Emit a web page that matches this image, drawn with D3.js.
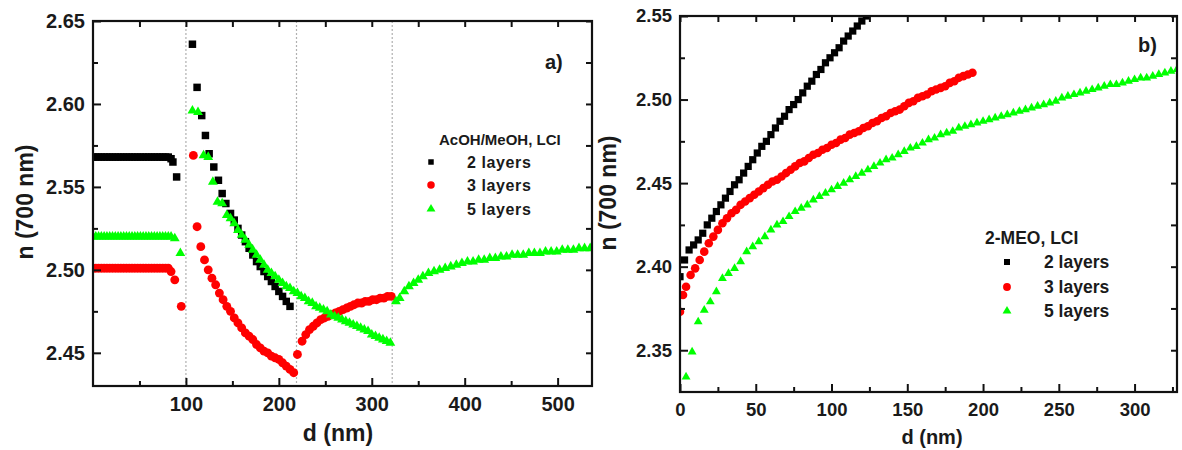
<!DOCTYPE html>
<html>
<head>
<meta charset="utf-8">
<script src="https://cdn.jsdelivr.net/npm/d3@7"></script>
<style>
  html, body { margin: 0; padding: 0; background: #fff; }
  svg { display: block; }
  text { font-family: "Liberation Sans", Arial, sans-serif; font-weight: bold; fill: #1a1a1a; }
</style>
</head>
<body>
<svg id="chart" width="1182" height="450"></svg>
<script>
// ---------------- DATA ----------------
const seriesNames = ["2 layers", "3 layers", "5 layers"];
const seriesColors = ["#000000", "#ff0000", "#00ff00"];

// Panel a) AcOH/MeOH, LCI
const aTicksX = [100, 200, 300, 400, 500];
const aMinorX = [50, 150, 250, 350, 450];
const aTicksY = [2.45, 2.50, 2.55, 2.60, 2.65];
const aMinorY = [2.475, 2.525, 2.575, 2.625];
const aBoundaries = [100, 219, 322];

const a2_d = [0,3,6,9,12,15,18,21,24,27,30,33,36,39,42,45,48,51,54,57,60,63,66,69,72,75,78,81,84,86,90,
  107,112,117,121,125,130,135,139,143,148,152,156,160,164,168,172,176,180,184,188,192,196,200,204,208,212];
const a2_n = [2.568,2.568,2.568,2.568,2.568,2.568,2.568,2.568,2.568,2.568,2.568,2.568,2.568,2.568,2.568,2.568,2.568,2.568,2.568,2.568,2.568,2.568,2.568,2.568,2.568,2.568,2.568,2.568,2.567,2.565,2.556,
  2.636,2.610,2.593,2.581,2.570,2.562,2.554,2.546,2.540,2.534,2.530,2.525,2.521,2.517,2.513,2.509,2.505,2.502,2.499,2.496,2.493,2.490,2.487,2.484,2.481,2.478];

const a3_d = [0,3,6,9,12,15,18,21,24,27,30,33,36,39,42,45,48,51,54,57,60,63,66,69,72,75,78,81,84,88,95,
  108,112,116,120,124,128,132,136,140,144,148,152,156,160,164,168,172,176,180,184,188,192,196,200,204,208,212,216,
  220,225,229,233,237,241,245,249,253,257,261,265,269,273,277,281,285,289,293,297,301,305,309,313,317,321];
const a3_n = [2.501,2.501,2.501,2.501,2.501,2.501,2.501,2.501,2.501,2.501,2.501,2.501,2.501,2.501,2.501,2.501,2.501,2.501,2.501,2.501,2.501,2.501,2.501,2.501,2.501,2.501,2.501,2.501,2.499,2.494,2.478,
  2.569,2.526,2.514,2.506,2.500,2.495,2.491,2.486,2.482,2.478,2.475,2.471,2.468,2.465,2.462,2.460,2.458,2.455,2.453,2.451,2.450,2.448,2.447,2.446,2.444,2.442,2.440,2.438,
  2.449,2.457,2.461,2.464,2.466,2.468,2.470,2.471,2.472,2.473,2.474,2.475,2.476,2.477,2.478,2.479,2.480,2.480,2.481,2.481,2.482,2.482,2.483,2.483,2.484,2.484];

const a5_d = [0,3,6,9,12,15,18,21,24,27,30,33,36,39,42,45,48,51,54,57,60,63,66,69,72,75,78,81,84,88,94,
  107,113,119,124,129,134,139,144,148,152,156,160,164,168,172,176,180,184,188,192,196,200,204,208,212,216,220,224,228,232,236,240,244,248,252,256,260,264,268,272,276,280,284,288,292,296,300,304,308,312,316,320,
  326,330,335,340,345,350,355,361,367,373,379,385,391,397,403,409,415,421,427,433,439,445,451,457,463,469,475,481,487,493,499,505,511,517,523,529,535];
const a5_n = [2.520,2.520,2.520,2.520,2.520,2.520,2.520,2.520,2.520,2.520,2.520,2.520,2.520,2.520,2.520,2.520,2.520,2.520,2.520,2.520,2.520,2.520,2.520,2.520,2.520,2.520,2.520,2.520,2.520,2.519,2.510,
  2.596,2.595,2.569,2.568,2.553,2.541,2.540,2.533,2.531,
  2.528,2.524,2.521,2.518,2.515,2.512,2.509,2.506,2.503,2.500,2.498,2.496,2.494,2.492,2.490,2.489,2.487,2.486,2.484,2.483,
  2.481,2.480,2.478,2.477,2.476,2.475,2.473,2.472,2.471,2.470,2.469,2.468,2.467,2.466,2.465,2.464,2.463,2.461,2.460,2.459,
  2.458,2.457,2.456,
  2.481,2.483,2.487,2.490,2.492,2.494,2.496,2.498,2.499,2.500,2.501,2.502,2.503,2.504,2.505,2.505,2.506,2.506,2.507,2.507,
  2.508,2.508,2.509,2.509,2.509,2.510,2.510,2.510,2.511,2.511,2.511,2.512,2.512,2.512,2.513,2.513,2.513];

// Panel b) 2-MEO, LCI
const bTicksX = [0, 50, 100, 150, 200, 250, 300];
const bMinorX = [25, 75, 125, 175, 225, 275, 325];
const bTicksY = [2.35, 2.40, 2.45, 2.50, 2.55];
const bMinorY = [2.375, 2.425, 2.475, 2.525];

const b2_d = [0,3,6,9,12,15,18,21,24,27,30,33,36,39,42,45,48,51,54,57,60,63,66,69,72,75,78,81,84,87,90,93,96,99,102,105,108,111,114,117,120,123,126,129];
const b2_n = [2.394,2.404,2.410,2.413,2.416,2.420,2.425,2.429,2.433,2.437,2.441,2.445,2.449,2.452,2.456,2.460,2.464,2.468,2.472,2.475,
  2.479,2.483,2.487,2.490,2.494,2.497,2.500,2.504,2.508,2.511,2.515,2.518,2.522,2.525,2.528,2.531,2.535,2.538,2.541,2.544,2.547,2.550,2.553,2.556];

const b3_d = [0,2,4,7,10,13,16,19,22,25,28,31,34,37,40,43,46,49,52,55,58,61,64,67,70,73,76,79,82,85,88,91,94,97,100,103,106,109,112,115,118,121,124,127,130,133,136,139,142,145,148,151,154,157,160,163,166,169,172,175,178,181,184,187,190,193];
const b3_n = [2.373,2.383,2.388,2.395,2.399,2.404,2.409,2.414,2.418,2.422,2.426,2.429,2.432,2.434,2.437,2.439,2.441,2.443,2.445,2.447,2.449,2.451,2.452,2.454,2.456,2.458,2.460,2.462,2.463,2.465,2.467,2.468,2.470,2.471,2.473,2.474,2.476,2.477,2.479,2.480,2.481,2.483,2.484,2.486,2.487,2.489,2.490,2.492,2.493,2.494,2.496,2.498,2.499,2.501,2.502,2.503,2.505,2.506,2.507,2.508,2.510,2.511,2.513,2.514,2.515,2.516];

const b5_d = [4,8,12,16,20,24,28,32,36,40,44,48,52,56,60,64,68,72,76,80,84,88,92,96,100,104,108,112,116,120,124,128,132,136,140,144,148,152,156,160,164,168,172,176,180,184,188,192,196,200,204,208,212,216,220,224,228,232,236,240,244,248,252,256,260,264,268,272,276,280,284,288,292,296,300,304,308,312,316,320,324,328];
const b5_n = [2.334,2.349,2.367,2.374,2.379,2.385,2.393,2.396,2.399,2.403,2.409,2.412,2.415,2.418,2.422,2.425,2.427,2.430,2.433,2.435,
  2.437,2.440,2.442,2.444,2.446,2.448,2.450,2.452,2.454,2.456,2.458,2.460,2.462,2.464,2.465,2.467,2.469,2.471,2.472,2.474,
  2.476,2.477,2.479,2.480,2.481,2.483,2.484,2.485,2.486,2.487,2.488,2.489,2.490,2.491,2.492,2.493,2.494,2.495,2.496,2.497,
  2.498,2.499,2.501,2.502,2.503,2.504,2.505,2.506,2.507,2.508,2.509,2.509,2.510,2.511,2.512,2.513,2.513,2.514,2.515,2.516,
  2.517,2.518];

// ---------------- DRAWING ----------------
const svg = d3.select("#chart");

function zip(ds, ns) { return ds.map((d, i) => ({ d: d, n: ns[i] })); }

function drawPanel(cfg) {
  const g = svg.append("g");
  const x = d3.scaleLinear().domain(cfg.xDomain).range([cfg.left, cfg.right]);
  const y = d3.scaleLinear().domain(cfg.yDomain).range([cfg.bottom, cfg.top]);

  const clipId = "clip-" + cfg.id;
  svg.append("clipPath").attr("id", clipId)
    .append("rect").attr("x", cfg.left).attr("y", cfg.top)
    .attr("width", cfg.right - cfg.left).attr("height", cfg.bottom - cfg.top);

  (cfg.boundaries || []).forEach(b => {
    g.append("line")
      .attr("x1", x(b)).attr("x2", x(b))
      .attr("y1", cfg.top).attr("y2", cfg.bottom)
      .attr("stroke", "#b0b0b0").attr("stroke-width", 1.2)
      .attr("stroke-dasharray", "2,2");
  });

  const symbols = [d3.symbolSquare, d3.symbolCircle, d3.symbolTriangle];
  const plot = g.append("g").attr("clip-path", "url(#" + clipId + ")");
  cfg.series.forEach((s, i) => {
    const gen = d3.symbol().type(symbols[i]).size(cfg.symSizes[i]);
    plot.append("g").selectAll("path").data(zip(s[0], s[1])).join("path")
      .attr("d", gen)
      .attr("transform", p => `translate(${x(p.d)},${y(p.n)})`)
      .attr("fill", seriesColors[i]);
  });

  const fs = cfg.tickFont;
  const styleAxis = (sel) => {
    sel.select(".domain").remove();
    sel.selectAll(".tick line").attr("stroke", "#111").attr("stroke-width", 2);
    sel.selectAll(".tick text").style("font-size", fs + "px").attr("fill", "#1a1a1a");
  };
  g.append("g").attr("transform", `translate(0,${cfg.bottom})`)
    .call(d3.axisBottom(x).tickValues(cfg.ticksX).tickSize(-8).tickPadding(cfg.xPad).tickFormat(d3.format("d"))).call(styleAxis);
  g.append("g").attr("transform", `translate(0,${cfg.bottom})`)
    .call(d3.axisBottom(x).tickValues(cfg.minorX).tickSize(-5).tickFormat("")).call(styleAxis);
  g.append("g").attr("transform", `translate(0,${cfg.top})`)
    .call(d3.axisTop(x).tickValues(cfg.ticksX.concat(cfg.minorX)).tickSize(-6).tickFormat("")).call(styleAxis);
  g.append("g").attr("transform", `translate(${cfg.left},0)`)
    .call(d3.axisLeft(y).tickValues(cfg.ticksY).tickSize(-8).tickPadding(cfg.yPad).tickFormat(d3.format(".2f"))).call(styleAxis);
  g.append("g").attr("transform", `translate(${cfg.left},0)`)
    .call(d3.axisLeft(y).tickValues(cfg.minorY).tickSize(-5).tickFormat("")).call(styleAxis);
  g.append("g").attr("transform", `translate(${cfg.right},0)`)
    .call(d3.axisRight(y).tickValues(cfg.ticksY.concat(cfg.minorY)).tickSize(-6).tickFormat("")).call(styleAxis);

  g.append("rect")
    .attr("x", cfg.left).attr("y", cfg.top)
    .attr("width", cfg.right - cfg.left).attr("height", cfg.bottom - cfg.top)
    .attr("fill", "none").attr("stroke", "#111").attr("stroke-width", 2.2);

  g.append("text").text("d (nm)")
    .attr("x", cfg.xTitle[0]).attr("y", cfg.xTitle[1]).attr("dy", "0.35em")
    .attr("text-anchor", "middle").style("font-size", cfg.xTitleFont + "px");
  g.append("text").text("n (700 nm)")
    .attr("transform", `translate(${cfg.yTitle[0]},${cfg.yTitle[1]}) rotate(-90)`)
    .attr("dy", "0.35em").attr("text-anchor", "middle").style("font-size", cfg.yTitleFont + "px");

  g.append("text").text(cfg.label)
    .attr("x", cfg.labelPos[0]).attr("y", cfg.labelPos[1]).attr("dy", "0.35em")
    .style("font-size", "20px");

  const L = cfg.legend;
  g.append("text").text(L.title)
    .attr("x", L.titleX).attr("y", L.titleY).attr("dy", "0.35em")
    .style("font-size", L.titleFont + "px");
  seriesNames.forEach((nm, i) => {
    const gen = d3.symbol().type(symbols[i]).size(L.symSizes[i]);
    g.append("path").attr("d", gen)
      .attr("transform", `translate(${L.symX},${L.rows[i]})`)
      .attr("fill", seriesColors[i]);
    g.append("text").text(nm)
      .attr("x", L.textX).attr("y", L.rows[i]).attr("dy", "0.35em")
      .style("font-size", L.font + "px").style("letter-spacing", L.spacing + "px");
  });
}

drawPanel({
  id: "a", left: 93, right: 592, top: 21, bottom: 386,
  xDomain: [0, 537], yDomain: [2.430, 2.65],
  ticksX: aTicksX, minorX: aMinorX, ticksY: aTicksY, minorY: aMinorY,
  boundaries: aBoundaries,
  series: [[a2_d, a2_n], [a3_d, a3_n], [a5_d, a5_n]],
  symSizes: [56, 62, 42],
  tickFont: 20, xPad: 11, yPad: 8,
  xTitle: [338, 433], xTitleFont: 23,
  yTitle: [25, 202], yTitleFont: 23,
  label: "a)", labelPos: [545, 62],
  legend: { title: "AcOH/MeOH, LCI", titleX: 439, titleY: 140, titleFont: 15,
            symX: 431, textX: 467, rows: [162, 185, 209], font: 16, spacing: 0.6,
            symSizes: [30, 44, 34] }
});

drawPanel({
  id: "b", left: 680, right: 1177, top: 16, bottom: 392,
  xDomain: [0, 328], yDomain: [2.325, 2.55],
  ticksX: bTicksX, minorX: bMinorX, ticksY: bTicksY, minorY: bMinorY,
  boundaries: [],
  series: [[b2_d, b2_n], [b3_d, b3_n], [b5_d, b5_n]],
  symSizes: [52, 58, 34],
  tickFont: 18.5, xPad: 11, yPad: 8,
  xTitle: [932, 437], xTitleFont: 20,
  yTitle: [608, 193], yTitleFont: 23,
  label: "b)", labelPos: [1138, 45],
  legend: { title: "2-MEO, LCI", titleX: 985, titleY: 238, titleFont: 17.5,
            symX: 1007, textX: 1044, rows: [262, 287, 311], font: 17.5, spacing: 0,
            symSizes: [36, 48, 34] }
});
</script>
</body>
</html>
